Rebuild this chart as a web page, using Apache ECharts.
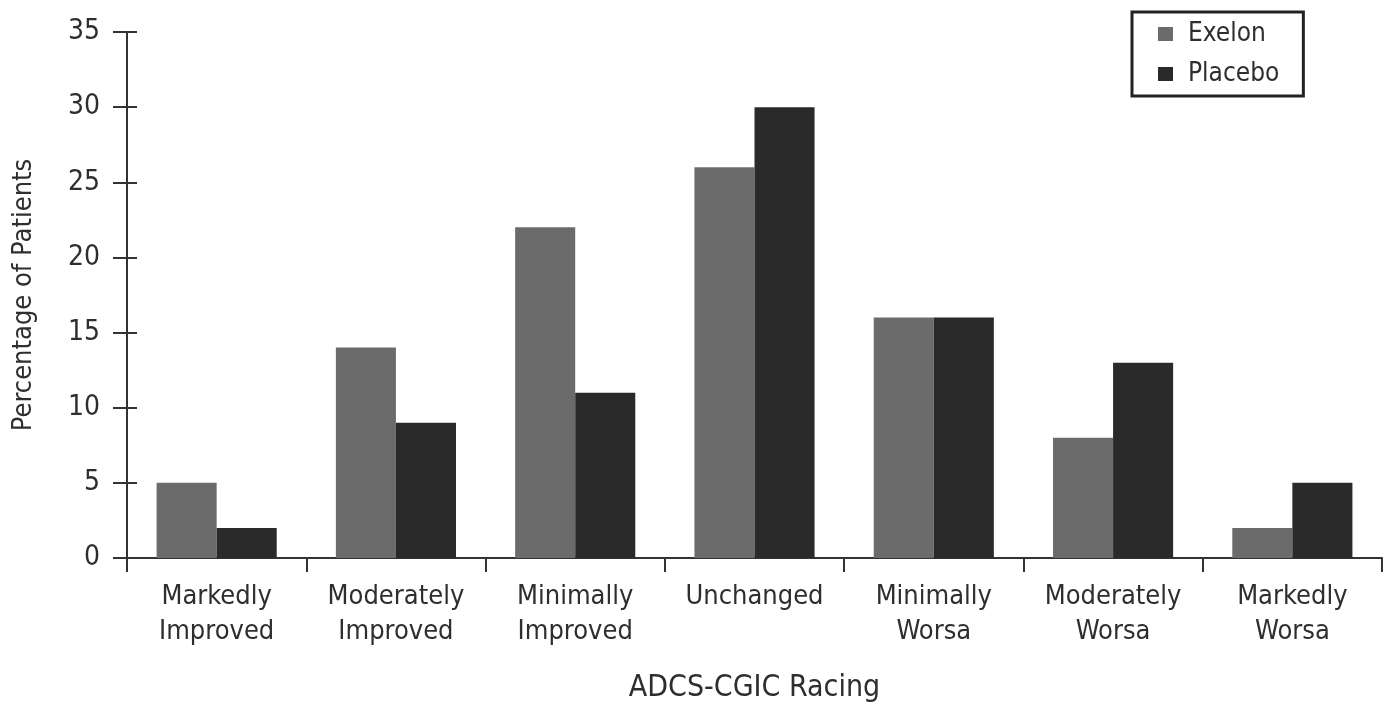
<!DOCTYPE html>
<html>
<head>
<meta charset="utf-8">
<script src="https://cdn.jsdelivr.net/npm/echarts@6/dist/echarts.min.js"></script>
<style>
html,body{margin:0;padding:0;background:#fff;}
#chart{width:1388px;height:702px;}
</style>
</head>
<body>
<div id="chart"></div>
<script>
const categories = ['Markedly\nImproved','Moderately\nImproved','Minimally\nImproved','Unchanged','Minimally\nWorsa','Moderately\nWorsa','Markedly\nWorsa'];
const exelon = [5, 14, 22, 26, 16, 8, 2];
const placebo = [2, 9, 11, 30, 16, 13, 5];
const yTicks = {min: 0, max: 35, interval: 5};

const FONT = "'Liberation Sans Narrow', 'DejaVu Sans Condensed', 'Arial Narrow', sans-serif";
const TXT = '#2e2e2e';
const AX = '#333333';

const chart = echarts.init(document.getElementById('chart'));
chart.setOption({
  animation: false,
  backgroundColor: '#ffffff',
  textStyle: {fontFamily: FONT},
  grid: {left: 127, right: 6, top: 32, bottom: 144, containLabel: false, outerBoundsMode: 'none'},
  legend: {
    orient: 'vertical',
    left: 1132, top: 12,
    padding: [8, 24, 8, 26],
    borderColor: '#222', borderWidth: 3, borderRadius: 0,
    itemWidth: 15, itemHeight: 14, itemGap: 12,
    icon: 'rect',
    textStyle: {fontFamily: FONT, fontSize: 26, color: TXT, lineHeight: 28, padding: [0, 0, 0, 10]},
    data: ['Exelon', 'Placebo']
  },
  xAxis: {
    type: 'category',
    data: categories,
    name: 'ADCS-CGIC Racing',
    nameLocation: 'middle',
    nameGap: 115,
    nameTextStyle: {fontFamily: FONT, fontSize: 30, color: TXT},
    axisLine: {show: true, lineStyle: {color: AX, width: 2}},
    axisTick: {show: true, length: 14, lineStyle: {color: AX, width: 2}},
    axisLabel: {fontFamily: FONT, fontSize: 27, lineHeight: 35, color: TXT, margin: 21, interval: 0},
    splitLine: {show: false}
  },
  yAxis: [{
    type: 'value',
    position: 'left',
    min: yTicks.min, max: yTicks.max, interval: yTicks.interval,
    name: 'Percentage of Patients',
    nameLocation: 'middle',
    nameGap: 90,
    nameRotate: 90,
    nameTextStyle: {fontFamily: FONT, fontSize: 27, color: TXT},
    axisLine: {show: true, lineStyle: {color: AX, width: 2}},
    axisTick: {show: true, length: 14, lineStyle: {color: AX, width: 2}},
    axisLabel: {fontFamily: FONT, fontSize: 28, color: TXT, margin: 27},
    splitLine: {show: false}
  }, {
    type: 'value',
    position: 'left',
    min: yTicks.min, max: yTicks.max, interval: yTicks.interval,
    axisLine: {show: false},
    axisTick: {show: true, inside: true, length: 10, lineStyle: {color: AX, width: 2}},
    axisLabel: {show: false},
    splitLine: {show: false}
  }],
  series: [{
    name: 'Exelon', type: 'bar', data: exelon,
    barGap: '0%', barCategoryGap: '33%',
    itemStyle: {color: '#6b6b6b'}
  }, {
    name: 'Placebo', type: 'bar', data: placebo,
    barGap: '0%', barCategoryGap: '33%',
    itemStyle: {color: '#2a2a2a'}
  }]
});
</script>
</body>
</html>
